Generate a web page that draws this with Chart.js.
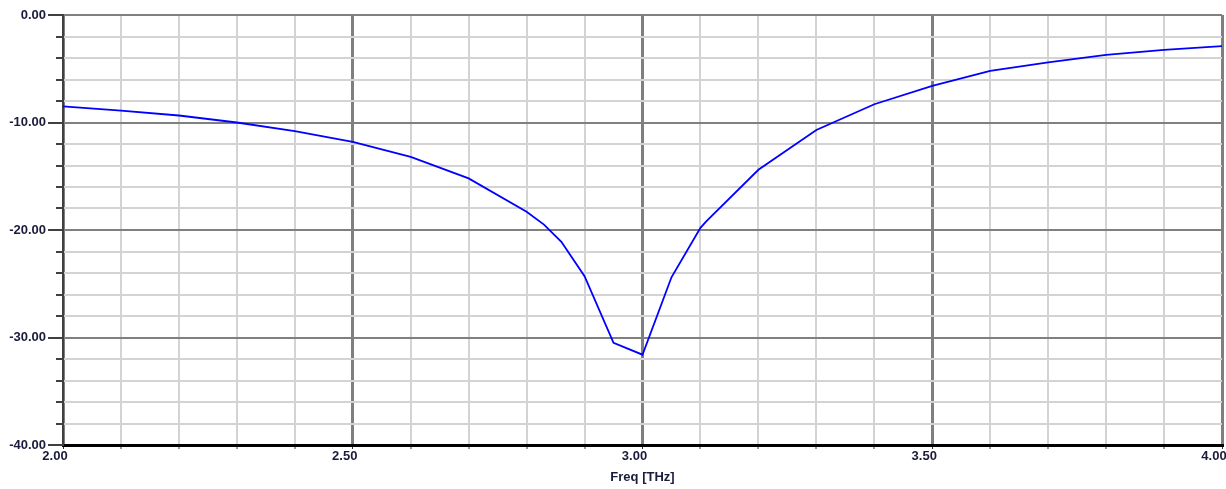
<!DOCTYPE html>
<html>
<head>
<meta charset="utf-8">
<script src="https://cdn.jsdelivr.net/npm/chart.js@4/dist/chart.umd.min.js"></script>
<style>
  body { margin: 0; background: #fff; }
  #wrap { width: 1226px; height: 489px; }
</style>
</head>
<body>
<div id="wrap"><canvas id="myChart" width="1226" height="489"></canvas></div>
<script>
// frequency points [THz] and return loss [dB]
const freqs = [2.0, 2.1, 2.2, 2.3, 2.4, 2.5, 2.6, 2.7, 2.8, 2.83, 2.86, 2.9, 2.95, 3.0,
  3.05, 3.1, 3.11, 3.2, 3.3, 3.4, 3.5, 3.6, 3.7, 3.8, 3.9, 4.0];
const s11 = [-8.5, -8.9, -9.35, -10.0, -10.8, -11.8, -13.2, -15.2, -18.3, -19.5, -21.1, -24.3, -30.5, -31.6,
  -24.4, -19.8, -19.2, -14.4, -10.7, -8.3, -6.6, -5.2, -4.4, -3.7, -3.25, -2.9];

const xTitle = 'Freq [THz]';
const yMin = -40, yMax = 0;
const xMin = 2, xMax = 4;

const labelColor = '#1a1a3a';
const labelFont = { family: 'Liberation Sans, Arial, sans-serif', size: 13, weight: 'bold' };

function isMajorX(v) {
  return Math.abs(v * 2 - Math.round(v * 2)) < 1e-6;
}
function isMajorY(v) {
  return Math.abs(v / 10 - Math.round(v / 10)) < 1e-6;
}

const points = freqs.map((f, i) => ({ x: f, y: s11[i] }));

new Chart(document.getElementById('myChart'), {
  type: 'line',
  data: {
    datasets: [{
      data: points,
      borderColor: '#0000ff',
      borderWidth: 1.8,
      pointRadius: 0,
      tension: 0,
      fill: false
    }]
  },
  options: {
    responsive: false,
    animation: false,
    layout: { padding: { top: 15, right: 4, bottom: 0, left: 0 } },
    plugins: {
      legend: { display: false },
      tooltip: { enabled: false }
    },
    scales: {
      x: {
        type: 'linear',
        min: xMin,
        max: xMax,
        afterFit: (scale) => {
          scale.height = 44;
          scale.paddingLeft = 0;
          scale.paddingRight = 0;
        },
        border: { color: '#000', width: 3 },
        grid: {
          color: (ctx) => isMajorX(ctx.tick.value) ? '#7f7f7f' : '#d3d3d3',
          lineWidth: (ctx) => isMajorX(ctx.tick.value) ? 3 : 2,
          tickLength: 4,
          tickColor: '#333',
          tickWidth: 1
        },
        ticks: {
          stepSize: 0.1,
          autoSkip: false,
          maxRotation: 0,
          padding: 0,
          labelOffset: -8,
          color: labelColor,
          font: labelFont,
          callback: (v) => isMajorX(v) ? v.toFixed(2) : ''
        },
        title: {
          display: true,
          text: xTitle,
          color: labelColor,
          font: labelFont,
          padding: { top: 0, bottom: 4 }
        }
      },
      y: {
        min: yMin,
        max: yMax,
        afterFit: (scale) => {
          scale.width = 63;
          scale.paddingTop = 0;
          scale.paddingBottom = 0;
        },
        border: { color: '#404040', width: 2 },
        grid: {
          color: (ctx) => isMajorY(ctx.tick.value) ? '#808080' : '#d3d3d3',
          lineWidth: 2,
          tickLength: 15,
          tickColor: '#404040',
          tickWidth: 2,
          // minor ticks: only the 7px next to the axis
          tickBorderDash: (ctx) => isMajorY(ctx.tick.value) ? [] : [0, 8, 7, 100]
        },
        ticks: {
          stepSize: 2,
          autoSkip: false,
          padding: 2,
          color: labelColor,
          font: labelFont,
          callback: (v) => isMajorY(v) ? v.toFixed(2) : ''
        }
      }
    }
  }
});
</script>
</body>
</html>
